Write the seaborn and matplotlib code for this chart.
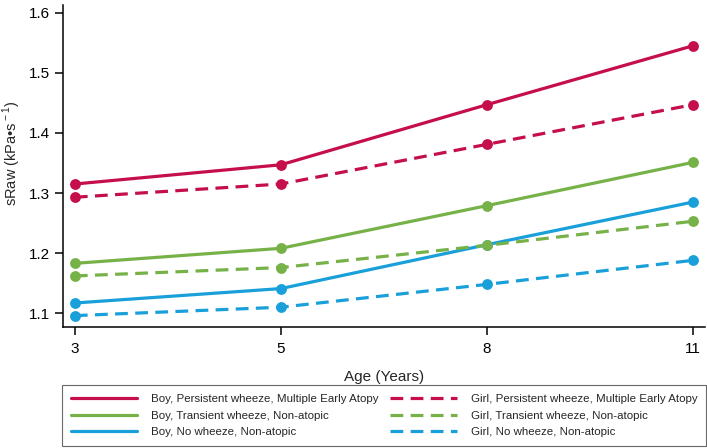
import matplotlib
matplotlib.use("Agg")
from matplotlib import pyplot as plt
from matplotlib.lines import Line2D
import pandas as pd
import seaborn as sns

# data
ages = ["3", "5", "8", "11"]
groups = [
    "Boy, Persistent wheeze, Multiple Early Atopy",
    "Boy, Transient wheeze, Non-atopic",
    "Boy, No wheeze, Non-atopic",
    "Girl, Persistent wheeze, Multiple Early Atopy",
    "Girl, Transient wheeze, Non-atopic",
    "Girl, No wheeze, Non-atopic",
]
boy_persistent = [1.315, 1.347, 1.447, 1.545]
boy_transient = [1.183, 1.208, 1.279, 1.351]
boy_none = [1.117, 1.141, 1.214, 1.285]
girl_persistent = [1.293, 1.315, 1.381, 1.447]
girl_transient = [1.162, 1.176, 1.213, 1.253]
girl_none = [1.096, 1.110, 1.148, 1.188]
values = [boy_persistent, boy_transient, boy_none,
          girl_persistent, girl_transient, girl_none]

red, green, blue = "#C50F4B", "#77B249", "#19A0DA"
colors = [red, green, blue, red, green, blue]
dash = (4, 2.3)
dashes = ["", "", "", dash, dash, dash]

rows = []
for g, vals in zip(groups, values):
    for a, v in zip(ages, vals):
        rows.append({"Age": a, "sRaw": v, "group": g})
df = pd.DataFrame(rows)

sns.set_style("ticks")
plt.rcParams["font.family"] = ["Liberation Sans", "DejaVu Sans"]
plt.rcParams["mathtext.fontset"] = "custom"
plt.rcParams["mathtext.rm"] = "Liberation Sans"

fig = plt.figure(figsize=(7.07, 4.48), dpi=100)
ax = fig.add_axes([0.089, 0.27, 0.908, 0.719])

sns.lineplot(data=df, x="Age", y="sRaw", hue="group", style="group",
             hue_order=groups, style_order=groups, palette=colors,
             dashes=dict(zip(groups, dashes)),
             markers=dict(zip(groups, ["o"] * 6)),
             markersize=7.8, markeredgewidth=0, linewidth=2.3,
             legend=False, ax=ax)

ax.set_xlim(-0.058, 3.058)
ax.set_ylim(1.077, 1.613)
ax.set_yticks([1.1, 1.2, 1.3, 1.4, 1.5, 1.6])
ax.set_yticklabels(["1.1", "1.2", "1.3", "1.4", "1.5", "1.6"])
ax.set_xlabel("Age (Years)", fontsize=11, labelpad=10)
ax.set_ylabel(r"sRaw (kPa•s$^{\rm -1}$)", fontsize=10.5)
ax.yaxis.set_label_coords(-0.062, 0.54)
ax.tick_params(labelsize=11, length=6, width=1.1, color="black", labelcolor="black")
ax.tick_params(axis="x", pad=5)
for s in ["left", "bottom"]:
    ax.spines[s].set_color("black")
    ax.spines[s].set_linewidth(1.1)
sns.despine(ax=ax)

handles = [Line2D([], [], color=c, lw=2.3,
                  linestyle="-" if d == "" else (0, d))
           for c, d in zip(colors, dashes)]
leg = fig.legend(handles, groups, ncol=2, mode="expand",
                 bbox_to_anchor=(0.087, 0.004, 0.912, 0.12), loc="lower left",
                 fontsize=8.25, frameon=True, fancybox=False, handlelength=5.8,
                 borderaxespad=0, labelspacing=0.56, handletextpad=1.2,
                 borderpad=0.8)
leg.get_frame().set_edgecolor("#444444")
leg.get_frame().set_linewidth(0.8)

fig.savefig("out.png", dpi=100)
